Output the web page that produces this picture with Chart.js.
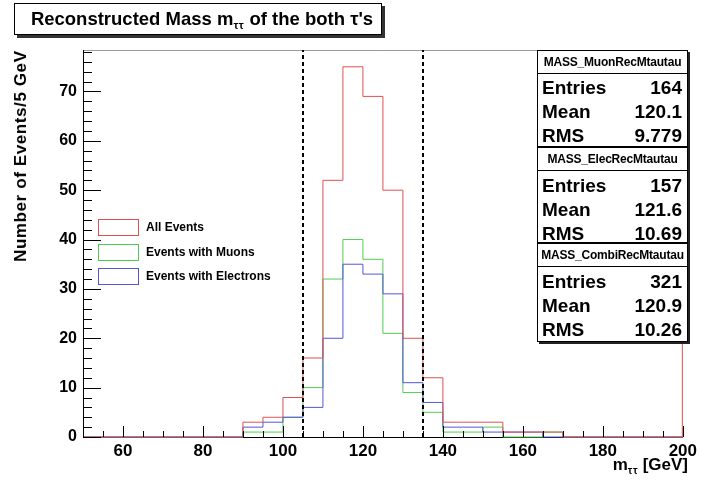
<!DOCTYPE html>
<html>
<head>
<meta charset="utf-8">
<script src="https://cdn.jsdelivr.net/npm/chart.js@4.4.1/dist/chart.umd.min.js"></script>
<style>
  body { margin: 0; background: #fff; }
  #wrap { position: relative; width: 701px; height: 484px; font-family: 'Liberation Sans', Arial, Helvetica, sans-serif; font-weight: bold; color: #000; }
  #c { position: absolute; left: 0; top: 0; }
  .title { position: absolute; left: 14px; top: 3px; width: 358px; height: 30px; padding-left: 8px; border: 1px solid #000; background: #fff;
           box-shadow: 3px 3px 0 #333; font-size: 18.5px; line-height: 30px; text-align: center; white-space: nowrap; }
  .title sub, .xtitle sub { font-size: 60%; vertical-align: -0.35em; line-height: 0; letter-spacing: 0.5px; }
  .stat { position: absolute; left: 537px; width: 149px; border: 1px solid #000; background: #fff; box-shadow: 2px 2px 0 #222; }
  .stat .hd { border-bottom: 1px solid #000; font-size: 12px; text-align: center; white-space: nowrap; letter-spacing: -0.2px; }
  .stat .row { position: absolute; left: 4px; right: 5px; font-size: 19px; height: 24px; line-height: 24px; }
  .stat .row span { float: right; }
  .leg { position: absolute; left: 98px; font-size: 12px; white-space: nowrap; }
  .leg i { display: inline-block; width: 39px; height: 15px; vertical-align: middle; margin-right: 7px; border: 1px solid; }
  .ytitle { position: absolute; left: 11px; top: 50px; height: 300px; writing-mode: vertical-rl; transform: rotate(180deg);
            text-align: end; font-size: 17px; letter-spacing: 0.6px; white-space: nowrap; }
  .xtitle { position: absolute; right: 13px; top: 455px; font-size: 17px; white-space: nowrap; }
</style>
</head>
<body>
<div id="wrap">
  <canvas id="c" width="701" height="484"></canvas>
  <div class="title">Reconstructed Mass m<sub>ττ</sub> of the both τ's</div>
  <div class="ytitle">Number of Events/5 GeV</div>
  <div class="xtitle">m<sub>ττ</sub> [GeV]</div>
  <div id="legend"></div>
  <div id="stats"></div>
</div>
<script>
// histogram binning: 30 bins of 5 GeV from 50 to 200
const binStart = 50;
const binWidth = 5;
const allEvents  = [0,0,0,0,0,0,0,0, 3,4,8,16,52,75,69,50,20,12,3,3,3,1,1,1, 0,0,0,0,0,0];
const muonEvents = [0,0,0,0,0,0,0,0, 1,1,4,10,32,40,36,21,9,5,1,1,2,0,0,1, 0,0,0,0,0,0];
const elecEvents = [0,0,0,0,0,0,0,0, 2,3,4,6,20,35,33,29,11,7,2,2,1,1,1,0, 0,0,0,0,0,0];

const xTicks = [60, 80, 100, 120, 140, 160, 180, 200];
const yTicks = [0, 10, 20, 30, 40, 50, 60, 70];
const cutLines = [105, 135];

const legendLabels = ['All Events', 'Events with Muons', 'Events with Electrons'];
const statNames = ['MASS_MuonRecMtautau', 'MASS_ElecRecMtautau', 'MASS_CombiRecMtautau'];
const statEntries = ['164', '157', '321'];
const statMean = ['120.1', '121.6', '120.9'];
const statRms = ['9.779', '10.69', '10.26'];

const colors = ['rgb(225,80,80)', 'rgb(80,205,80)', 'rgb(85,85,215)'];

function toSteps(values) {
  const pts = values.map((v, i) => ({ x: binStart + i * binWidth, y: v }));
  pts.push({ x: binStart + values.length * binWidth, y: values[values.length - 1] });
  return pts;
}

// ROOT style frame: inward ticks, dashed cut lines, red right edge
const framePlugin = {
  id: 'frame',
  afterDatasetsDraw(chart) {
    const { ctx, chartArea: a, scales: { x, y } } = chart;
    ctx.save();
    ctx.lineWidth = 1;
    ctx.strokeStyle = '#999';
    ctx.beginPath();
    ctx.moveTo(a.left, a.top + 0.5); ctx.lineTo(a.right, a.top + 0.5);
    ctx.stroke();
    ctx.strokeStyle = colors[0];
    ctx.beginPath();
    ctx.moveTo(a.right - 0.5, a.top); ctx.lineTo(a.right - 0.5, a.bottom);
    ctx.stroke();
    ctx.strokeStyle = '#000';
    ctx.beginPath();
    ctx.moveTo(a.left + 0.5, a.top); ctx.lineTo(a.left + 0.5, a.bottom);
    ctx.stroke();
    // y ticks
    ctx.beginPath();
    for (let v = 0; v <= y.max; v += 2) {
      const py = Math.round(y.getPixelForValue(v)) + 0.5;
      const len = v % 10 === 0 ? 18 : 9;
      ctx.moveTo(a.left, py); ctx.lineTo(a.left + len, py);
    }
    // x ticks
    for (let v = x.min; v <= x.max; v += 5) {
      const px = Math.round(x.getPixelForValue(v)) + 0.5;
      const len = v % 20 === 0 ? 11 : 6;
      ctx.moveTo(px, a.bottom); ctx.lineTo(px, a.bottom - len);
    }
    ctx.stroke();
    // cut lines
    ctx.lineWidth = 2;
    ctx.setLineDash([4, 3]);
    ctx.beginPath();
    cutLines.forEach(c => {
      const px = Math.round(x.getPixelForValue(c));
      ctx.moveTo(px, a.bottom); ctx.lineTo(px, a.top);
    });
    ctx.stroke();
    ctx.restore();
  }
};

const font = { family: "'Liberation Sans', Arial, Helvetica, sans-serif", size: 16, weight: 'bold' };

new Chart(document.getElementById('c'), {
  type: 'line',
  data: {
    datasets: [
      { label: legendLabels[0], data: toSteps(allEvents), borderColor: colors[0], order: 0 },
      { label: legendLabels[1], data: toSteps(muonEvents), borderColor: colors[1], order: 2 },
      { label: legendLabels[2], data: toSteps(elecEvents), borderColor: colors[2], order: 1 }
    ]
  },
  options: {
    responsive: false,
    animation: false,
    layout: { padding: { top: 50, right: 13, left: 0, bottom: 0 }, autoPadding: false },
    elements: { line: { borderWidth: 1, stepped: 'before', fill: false }, point: { radius: 0 } },
    datasets: { line: { clip: 3 } },
    plugins: { legend: { display: false }, tooltip: { enabled: false } },
    scales: {
      x: {
        type: 'linear', min: 50, max: 200,
        grid: { display: false, drawTicks: false },
        border: { display: true, color: '#000', width: 1 },
        ticks: { color: '#000', font: { ...font, size: 17 }, padding: 4, maxRotation: 0 },
        afterBuildTicks: s => { s.ticks = xTicks.map(v => ({ value: v })); },
        afterFit: s => { s.height = 47; }
      },
      y: {
        min: 0, max: 78.4,
        grid: { display: false, drawTicks: false },
        border: { display: false },
        ticks: { color: '#000', font: font, padding: 6 },
        afterBuildTicks: s => { s.ticks = yTicks.map(v => ({ value: v })); },
        afterFit: s => { s.width = 83; }
      }
    }
  },
  plugins: [framePlugin]
});

// legend
const legTops = [219, 244, 268];
document.getElementById('legend').innerHTML = legendLabels.map((l, i) =>
  `<div class="leg" style="top:${legTops[i]}px"><i style="border-color:${colors[i]}"></i>${l}</div>`).join('');

// stat boxes
const boxTops = [50, 147, 243];
const boxHeights = [97, 96, 99];
const rowShift = [-2, -1, -1];
document.getElementById('stats').innerHTML = statNames.map((n, i) =>
  `<div class="stat" style="top:${boxTops[i]}px;height:${boxHeights[i] - 2}px">
     <div class="hd" style="height:22px;line-height:22px">${n}</div>
     <div class="row" style="top:${27 + rowShift[i]}px">Entries<span>${statEntries[i]}</span></div>
     <div class="row" style="top:${51 + rowShift[i]}px">Mean<span>${statMean[i]}</span></div>
     <div class="row" style="top:${75 + rowShift[i]}px">RMS<span>${statRms[i]}</span></div>
   </div>`).join('');
</script>
</body>
</html>
